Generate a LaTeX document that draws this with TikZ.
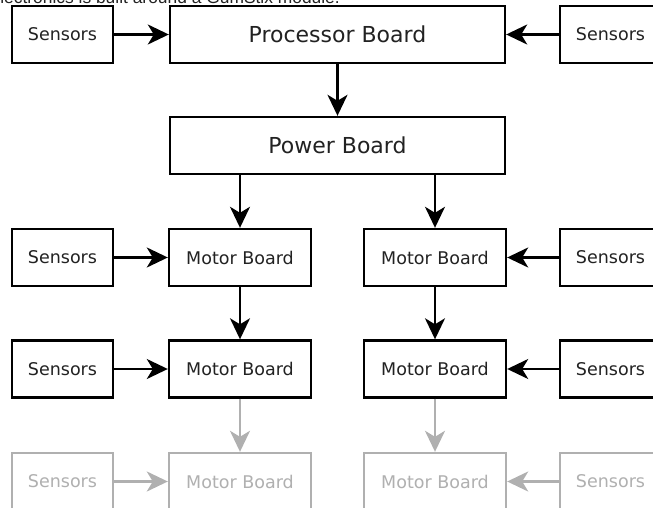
\documentclass[tikz,border=0pt]{standalone}
\usepackage{fontspec}
\setmainfont{DejaVu Sans}
\newfontfamily\titlefont{Liberation Sans}
\usetikzlibrary{arrows.meta}
\definecolor{ink}{RGB}{34,34,34}
\definecolor{faded}{RGB}{176,176,176}
\tikzset{
  box/.style={draw=black, line width=2.4pt, fill=white, text=ink, inner sep=0pt,
    minimum height=57pt, font=\fontsize{17.5}{20}\selectfont},
  sensbox/.style={box, minimum width=101pt},
  motorbox/.style={box, minimum width=142pt},
  bigbox/.style={box, minimum width=335pt, font=\fontsize{22}{26}\selectfont},
  faint/.style={draw=faded, text=faded},
  link/.style={line width=2.2pt, draw=black,
    -{Stealth[length=21pt 0 0, width=20pt 0 0, inset=6pt 0]}},
  fainted/.style={draw=faded, color=faded}
}
\begin{document}
\begin{tikzpicture}[x=1pt,y=-1pt]
\useasboundingbox (0,0) rectangle (653,508);
\node[anchor=base east, inner sep=0pt, text=ink, font=\titlefont\fontsize{17.4}{20}\selectfont]
  (title) at (340,4) {electronics is built around a GumStix module.};
% top row
\node[sensbox] (s1) at (62.5,34.5) {Sensors};
\node[bigbox] (pb) at (337.5,34.5) {Processor Board};
\node[sensbox] (s2) at (610.5,34.5) {Sensors};
\node[bigbox] (pw) at (337.5,145.5) {Power Board};
% row 2
\node[sensbox] (sl2) at (62.5,257.5) {Sensors};
\node[motorbox] (ml2) at (240,257.5) {Motor Board};
\node[motorbox] (mr2) at (435,257.5) {Motor Board};
\node[sensbox] (sr2) at (610.5,257.5) {Sensors};
% row 3
\node[sensbox] (sl3) at (62.5,369) {Sensors};
\node[motorbox] (ml3) at (240,369) {Motor Board};
\node[motorbox] (mr3) at (435,369) {Motor Board};
\node[sensbox] (sr3) at (610.5,369) {Sensors};
% row 4 (faded)
\node[sensbox, faint] (sl4) at (62.5,481.5) {Sensors};
\node[motorbox, faint] (ml4) at (240,481.5) {Motor Board};
\node[motorbox, faint] (mr4) at (435,481.5) {Motor Board};
\node[sensbox, faint] (sr4) at (610.5,481.5) {Sensors};
% connectors
\draw[link] (s1) -- (pb);
\draw[link] (s2) -- (pb);
\draw[link] (pb) -- (pw);
\draw[link] (pw.south -| ml2.north) -- (ml2.north);
\draw[link] (pw.south -| mr2.north) -- (mr2.north);
\draw[link] (sl2) -- (ml2);
\draw[link] (sr2) -- (mr2);
\draw[link] (ml2) -- (ml3);
\draw[link] (mr2) -- (mr3);
\draw[link] (sl3) -- (ml3);
\draw[link] (sr3) -- (mr3);
\draw[link, fainted] (ml3) -- (ml4);
\draw[link, fainted] (mr3) -- (mr4);
\draw[link, fainted] (sl4) -- (ml4);
\draw[link, fainted] (sr4) -- (mr4);
\end{tikzpicture}
\end{document}
